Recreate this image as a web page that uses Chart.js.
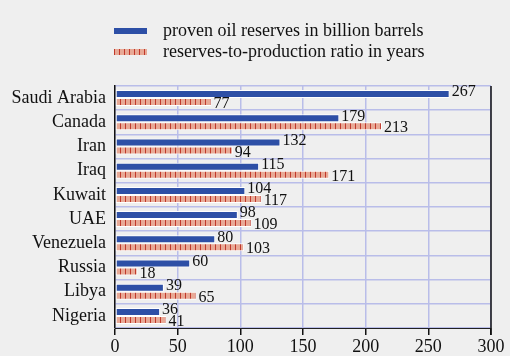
<!DOCTYPE html>
<html>
<head>
<meta charset="utf-8">
<script src="https://cdn.jsdelivr.net/npm/chart.js@4"></script>
<style>
  html,body{margin:0;padding:0;background:#efefef;}
  #wrap{position:relative;width:510px;height:356px;}
  #legend{position:absolute;left:114px;top:20px;font-family:"Liberation Serif",serif;font-size:18px;color:#111;}
  .item{height:21px;line-height:21px;display:flex;align-items:center;}
  .sw{width:33px;height:6px;margin-right:16px;}
  .blue{background:#2d4fa6;}
  .hatch{background:repeating-linear-gradient(90deg,#c0392b 0 1px,#e8a996 1px 5px);}
</style>
</head>
<body>
<div id="wrap">
  <canvas id="c" width="510" height="356"></canvas>
  <div id="legend">
    <div class="item"><span class="sw blue"></span>proven oil reserves in billion barrels</div>
    <div class="item"><span class="sw hatch"></span>reserves-to-production ratio in years</div>
  </div>
</div>
<script>
/* ====== data ====== */
const COUNTRIES = ["Saudi Arabia","Canada","Iran","Iraq","Kuwait","UAE","Venezuela","Russia","Libya","Nigeria"];
const RESERVES = [267,179,132,115,104,98,80,60,39,36];
const RP_RATIO = [77,213,94,171,117,109,103,18,65,41];
const X_TICKS = [0,50,100,150,200,250,300];

const FONT = '"Liberation Serif", serif';
const GRID = '#b9bde9';

/* ====== hatch pattern ====== */
function hatch(){
  const p = document.createElement('canvas');
  p.width = 5; p.height = 8;
  const g = p.getContext('2d');
  g.fillStyle = '#e8a996'; g.fillRect(0,0,5,8);
  g.fillStyle = '#c0392b'; g.fillRect(0,0,1,8);
  return g.createPattern(p,'repeat');
}

/* ====== value labels + right frame ====== */
const extras = {
  id:'extras',
  afterDatasetsDraw(chart){
    const ctx = chart.ctx;
    ctx.save();
    ctx.font = '16px ' + FONT;
    ctx.fillStyle = '#111';
    ctx.textBaseline = 'middle';
    chart.data.datasets.forEach((ds,di)=>{
      chart.getDatasetMeta(di).data.forEach((bar,i)=>{
        ctx.fillText(String(ds.data[i]), bar.x + 2, bar.y + (di===0 ? -2 : 2));
      });
    });
    const a = chart.chartArea;
    ctx.strokeStyle = '#111'; ctx.lineWidth = 1.5;
    ctx.beginPath(); ctx.moveTo(a.right, a.top); ctx.lineTo(a.right, a.bottom + 7); ctx.stroke();
    ctx.restore();
  }
};

new Chart(document.getElementById('c'), {
  type:'bar',
  data:{
    labels: COUNTRIES,
    datasets:[
      {label:'proven oil reserves in billion barrels', data:RESERVES, backgroundColor:'#2d4fa6',
       borderColor:'#ffffff', borderWidth:1, borderSkipped:false},
      {label:'reserves-to-production ratio in years', data:RP_RATIO, backgroundColor:hatch(),
       borderColor:'#ffffff', borderWidth:1, borderSkipped:false}
    ]
  },
  options:{
    indexAxis:'y',
    responsive:false,
    animation:false,
    categoryPercentage:0.66,
    barPercentage:1.0,
    layout:{padding:{top:86,right:19,left:0,bottom:0}},
    plugins:{legend:{display:false}, tooltip:{enabled:false}},
    scales:{
      x:{
        min:0, max:300,
        afterBuildTicks(s){ s.ticks = X_TICKS.map(v=>({value:v})); },
        afterFit(s){ s.height = 28; },
        grid:{color:GRID, lineWidth:1.5, tickColor:'#111', tickLength:7},
        border:{color:'#222', width:1},
        ticks:{color:'#111', font:{family:FONT, size:18}, padding:1, maxRotation:0}
      },
      y:{
        afterFit(s){ s.width = 115; },
        grid:{color:GRID, lineWidth:1.5, drawTicks:false},
        border:{color:'#111', width:1.5},
        ticks:{color:'#111', font:{family:FONT, size:18}, padding:9, autoSkip:false}
      }
    }
  },
  plugins:[extras]
});
</script>
</body>
</html>
